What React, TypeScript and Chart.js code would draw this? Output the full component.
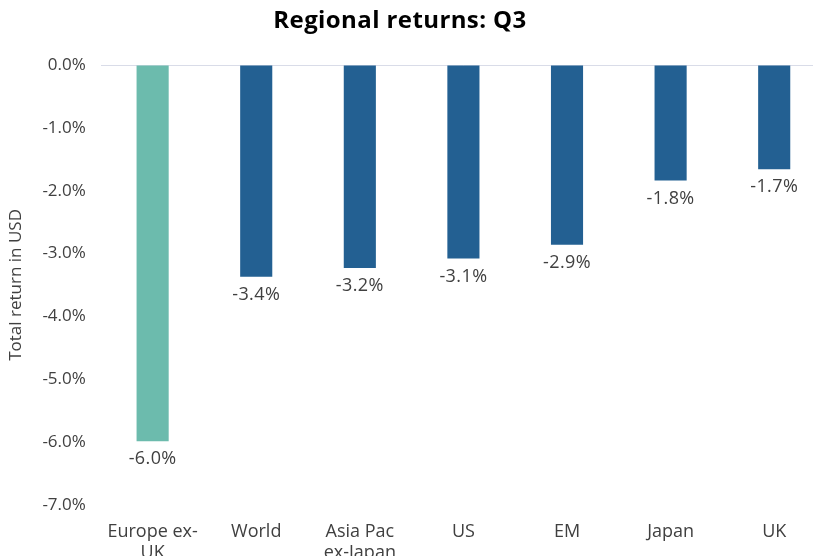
import React, { useEffect, useRef } from "react";
import { Chart, registerables } from "chart.js";

Chart.register(...registerables);

const chartTitle = "Regional returns: Q3";
const axisTitle = "Total return in USD";
const categories: (string | string[])[] = [
  ["Europe ex-", "UK"],
  "World",
  ["Asia Pac", "ex-Japan"],
  "US",
  "EM",
  "Japan",
  "UK",
];
const returns = [-5.99, -3.37, -3.23, -3.08, -2.86, -1.84, -1.66];
const barColors = ["#6CBBAD", "#236092", "#236092", "#236092", "#236092", "#236092", "#236092"];
const yMin = -7;
const yMax = 0;
const yStep = 1;

const FONT = "'Open Sans', sans-serif";
const TEXT = "#404040";

const labelsPlugin = {
  id: "barLabels",
  afterDatasetsDraw(chart: any) {
    const ctx = chart.ctx;
    const meta = chart.getDatasetMeta(0);
    ctx.save();
    ctx.font = `18px ${FONT}`;
    (ctx as any).letterSpacing = "0.4px";
    ctx.fillStyle = TEXT;
    ctx.textAlign = "center";
    ctx.textBaseline = "middle";
    meta.data.forEach((bar: any, i: number) => {
      const v = returns[i];
      ctx.fillText(v.toFixed(1) + "%", bar.x, bar.y + 18);
    });
    ctx.restore();
  },
};

const titlePlugin = {
  id: "fixedTitle",
  afterDraw(chart: any) {
    const ctx = chart.ctx;
    ctx.save();
    ctx.font = `bold 24px ${FONT}`;
    (ctx as any).letterSpacing = "0.4px";
    ctx.fillStyle = "#000000";
    ctx.textAlign = "center";
    ctx.textBaseline = "middle";
    ctx.fillText(chartTitle, 400, 21);
    ctx.restore();
  },
};

export default function App() {
  const ref = useRef<HTMLCanvasElement | null>(null);
  useEffect(() => {
    if (!ref.current) return;
    const chart = new Chart(ref.current, {
      type: "bar",
      data: {
        labels: categories,
        datasets: [
          {
            data: returns,
            backgroundColor: barColors,
            barPercentage: 0.31,
            categoryPercentage: 1,
          },
        ],
      },
      options: {
        animation: false,
        responsive: true,
        maintainAspectRatio: false,
        layout: { padding: { top: 65, left: 6, right: 0, bottom: 0 } },
        plugins: {
          legend: { display: false },
          title: { display: false },
          tooltip: { enabled: false },
        },
        scales: {
          x: {
            grid: { display: false },
            border: { display: false },
            ticks: {
              color: TEXT,
              font: { family: FONT, size: 18 },
              maxRotation: 0,
              autoSkip: false,
              padding: 8,
            },
          },
          y: {
            min: yMin,
            max: yMax,
            border: { display: false },
            grid: {
              color: (c: any) => (c.tick && c.tick.value === 0 ? "#D9DCE8" : "rgba(0,0,0,0)"),
              lineWidth: 1,
              drawTicks: false,
            },
            ticks: {
              stepSize: yStep,
              color: TEXT,
              font: { family: FONT, size: 17 },
              padding: 15,
              callback: (v: any) => Number(v).toFixed(1) + "%",
            },
            title: {
              display: true,
              text: axisTitle,
              color: TEXT,
              font: { family: FONT, size: 17 },
              padding: { top: 0, bottom: 1 },
            },
          },
        },
      },
      plugins: [labelsPlugin, titlePlugin],
    });
    return () => chart.destroy();
  }, []);
  return (
    <div style={{ position: "fixed", left: 0, top: 0, width: 813, height: 556, overflow: "hidden", background: "#fff" }}>
      <div style={{ position: "absolute", left: 0, top: 0, width: 826, height: 572 }}>
        <canvas ref={ref} />
      </div>
    </div>
  );
}
